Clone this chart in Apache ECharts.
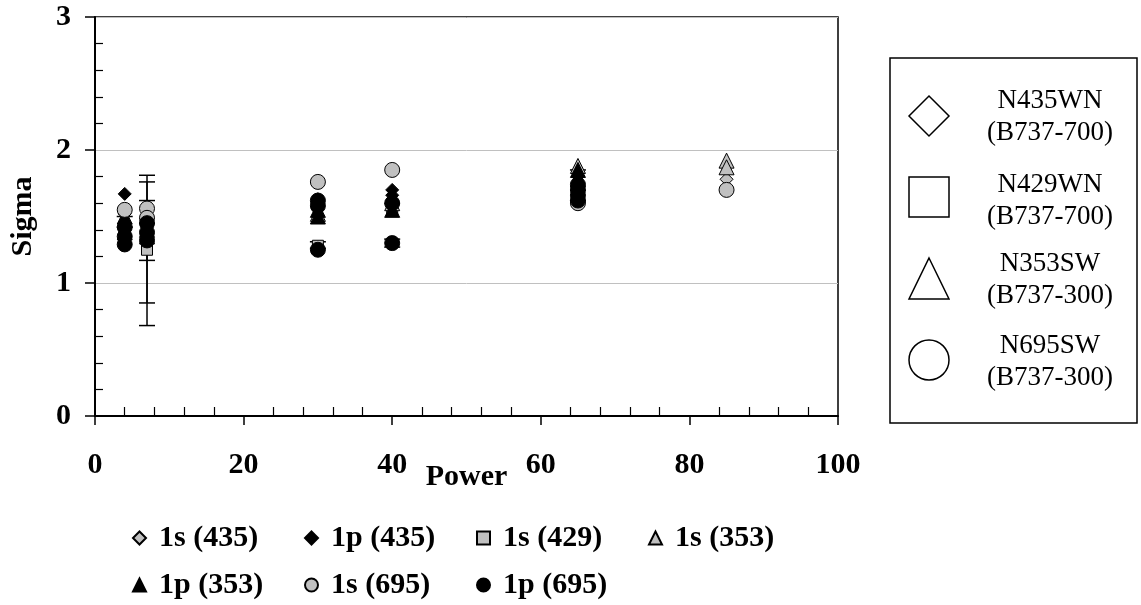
<!DOCTYPE html>
<html lang="en">
<head>
    <meta charset="UTF-8">
    <title>Sigma vs Power</title>
    <script src="https://cdn.jsdelivr.net/npm/echarts@6/dist/echarts.min.js"></script>
    <style>
        html, body { margin: 0; padding: 0; background: #fff; }
    </style>
</head>
<body>
<div style="width:1141px;height:605px" id="mydiv"></div>
<script>
// data: [power, sigma]
var s1_435 = [[4, 1.45], [7, 1.42], [30, 1.6], [40, 1.62], [65, 1.75], [85, 1.78]];
var p1_435 = [[4, 1.67], [4, 1.52], [7, 1.45], [7, 1.38], [30, 1.63], [40, 1.7], [40, 1.66], [65, 1.8], [65, 1.72], [65, 1.68]];
var s1_429 = [[4, 1.40], [7, 1.25], [30, 1.28], [40, 1.55], [65, 1.7]];
var s1_353 = [[4, 1.38], [7, 1.35], [30, 1.52], [40, 1.6], [65, 1.88], [85, 1.92], [85, 1.87]];
var p1_353 = [[4, 1.5], [7, 1.4], [7, 1.5], [30, 1.5], [30, 1.55], [40, 1.55], [40, 1.65], [65, 1.85], [65, 1.78], [65, 1.75]];
var s1_695 = [[4, 1.55], [7, 1.56], [7, 1.49], [30, 1.76], [40, 1.85], [65, 1.6], [85, 1.7]];
var p1_695 = [[4, 1.29], [4, 1.35], [4, 1.42], [7, 1.32], [7, 1.38], [7, 1.45], [30, 1.25], [30, 1.58], [30, 1.62], [40, 1.3], [40, 1.6], [65, 1.62], [65, 1.66], [65, 1.7], [65, 1.74]];
// error bars: [power, low, high]
var errBars = [[7, 0.68, 1.81], [7, 0.85, 1.76], [7, 1.17, 1.62], [4, 1.42, 1.5], [30, 1.26, 1.31], [40, 1.27, 1.33], [65, 1.62, 1.85]];

var seriesNames = ['1s (435)', '1p (435)', '1s (429)', '1s (353)', '1p (353)', '1s (695)', '1p (695)'];
var xTicks = [0, 20, 40, 60, 80, 100];
var yTicks = [0, 1, 2, 3];

// right-hand box: aircraft
var boxNames = ['N435WN\n(B737-700)', 'N429WN\n(B737-700)', 'N353SW\n(B737-300)', 'N695SW\n(B737-300)'];

var myChart = echarts.init(document.getElementById('mydiv'));

var GRAY = '#c0c0c0';
var serif = '"Liberation Serif", "Times New Roman", serif';

function pts(name, data, symbol, size, color) {
    return {
        name: name,
        type: 'scatter',
        data: data,
        symbol: symbol,
        symbolSize: size,
        itemStyle: { color: color, borderColor: '#000', borderWidth: 1, opacity: 1 },
        xAxisIndex: 0,
        yAxisIndex: 0,
        z: 3
    };
}

var option = {
    animation: false,
    textStyle: { fontFamily: serif },
    grid: {
        left: 95, right: 303, top: 17, bottom: 189,
        show: true, borderColor: '#000', borderWidth: 1.5
    },
    xAxis: [{
        type: 'value', min: xTicks[0], max: xTicks[xTicks.length - 1], interval: 20,
        position: 'bottom',
        name: 'Power', nameLocation: 'middle', nameGap: 46, nameMoveOverlap: false,
        nameTextStyle: { fontFamily: serif, fontWeight: 'bold', fontSize: 30, color: '#000' },
        axisLine: { lineStyle: { color: '#000', width: 2 } },
        axisTick: { length: 9, lineStyle: { color: '#000', width: 1.5 } },
        axisLabel: { margin: 34, fontFamily: serif, fontWeight: 'bold', fontSize: 30, color: '#000' },
        splitLine: { show: false }
    }, {
        type: 'value', min: 0, max: 100, interval: 20,
        position: 'bottom', offset: 0,
        axisLine: { show: false },
        axisTick: { show: false, inside: true },
        minorTick: { show: true, splitNumber: 5, length: 9, lineStyle: { color: '#000', width: 1.2 } },
        axisLabel: { show: false },
        splitLine: { show: false }
    }],
    yAxis: [{
        type: 'value', min: yTicks[0], max: yTicks[yTicks.length - 1], interval: 1,
        position: 'left',
        name: 'Sigma', nameLocation: 'middle', nameGap: 57, nameRotate: 90, nameMoveOverlap: false,
        nameTextStyle: { fontFamily: serif, fontWeight: 'bold', fontSize: 30, color: '#000' },
        axisLine: { show: true, lineStyle: { color: '#000', width: 2 } },
        axisTick: { show: true, length: 10, lineStyle: { color: '#000', width: 1.5 } },
        axisLabel: { margin: 24, fontFamily: serif, fontWeight: 'bold', fontSize: 30, color: '#000' },
        splitLine: { show: true, lineStyle: { color: GRAY, width: 1 } }
    }, {
        type: 'value', min: 0, max: 3, interval: 1,
        position: 'left', offset: 0,
        axisLine: { show: false },
        axisTick: { show: false, inside: true },
        minorTick: { show: true, splitNumber: 5, length: 8, lineStyle: { color: '#000', width: 1.2 } },
        axisLabel: { show: false },
        splitLine: { show: false }
    }],
    legend: {
        left: 127, top: 517, width: 700,
        orient: 'horizontal',
        itemWidth: 13, itemHeight: 13, itemGap: 15,
        data: seriesNames,
        textStyle: { fontFamily: serif, fontWeight: 'bold', fontSize: 30, color: '#000', width: 130, lineHeight: 32, padding: [0, 0, 0, 8] }
    },
    series: [
        {
            name: 'err',
            type: 'custom',
            xAxisIndex: 0, yAxisIndex: 0,
            data: errBars,
            z: 2,
            renderItem: function (params, api) {
                var x = api.value(0);
                var lo = api.coord([x, api.value(1)]);
                var hi = api.coord([x, api.value(2)]);
                var w = 8;
                var st = { stroke: '#000', lineWidth: 1.5 };
                return {
                    type: 'group',
                    children: [
                        { type: 'line', shape: { x1: lo[0], y1: lo[1], x2: hi[0], y2: hi[1] }, style: st },
                        { type: 'line', shape: { x1: lo[0] - w, y1: lo[1], x2: lo[0] + w, y2: lo[1] }, style: st },
                        { type: 'line', shape: { x1: hi[0] - w, y1: hi[1], x2: hi[0] + w, y2: hi[1] }, style: st }
                    ]
                };
            }
        },
        pts(seriesNames[0], s1_435, 'diamond', 13, GRAY),
        pts(seriesNames[1], p1_435, 'diamond', 13, '#000'),
        pts(seriesNames[2], s1_429, 'rect', 11, GRAY),
        pts(seriesNames[3], s1_353, 'triangle', 15, GRAY),
        pts(seriesNames[4], p1_353, 'triangle', 15, '#000'),
        pts(seriesNames[5], s1_695, 'circle', 15, GRAY),
        pts(seriesNames[6], p1_695, 'circle', 15, '#000')
    ],
    graphic: [
        { type: 'rect', shape: { x: 890, y: 58, width: 247, height: 365 },
          style: { fill: '#fff', stroke: '#000', lineWidth: 1.5 } },
        { type: 'polygon', shape: { points: [[929, 96], [949, 116], [929, 136], [909, 116]] },
          style: { fill: '#fff', stroke: '#000', lineWidth: 1.5 } },
        { type: 'rect', shape: { x: 909, y: 177, width: 40, height: 40 },
          style: { fill: '#fff', stroke: '#000', lineWidth: 1.5 } },
        { type: 'polygon', shape: { points: [[929, 258], [949, 299], [909, 299]] },
          style: { fill: '#fff', stroke: '#000', lineWidth: 1.5 } },
        { type: 'circle', shape: { cx: 929, cy: 360, r: 20 },
          style: { fill: '#fff', stroke: '#000', lineWidth: 1.5 } },
        { type: 'text', x: 1050, y: 117, style: { text: boxNames[0], fill: '#000', font: '27px ' + serif, textAlign: 'center', textVerticalAlign: 'middle', lineHeight: 32 } },
        { type: 'text', x: 1050, y: 201, style: { text: boxNames[1], fill: '#000', font: '27px ' + serif, textAlign: 'center', textVerticalAlign: 'middle', lineHeight: 32 } },
        { type: 'text', x: 1050, y: 280, style: { text: boxNames[2], fill: '#000', font: '27px ' + serif, textAlign: 'center', textVerticalAlign: 'middle', lineHeight: 32 } },
        { type: 'text', x: 1050, y: 362, style: { text: boxNames[3], fill: '#000', font: '27px ' + serif, textAlign: 'center', textVerticalAlign: 'middle', lineHeight: 32 } }
    ]
};
myChart.setOption(option);
</script>
</body>
</html>
